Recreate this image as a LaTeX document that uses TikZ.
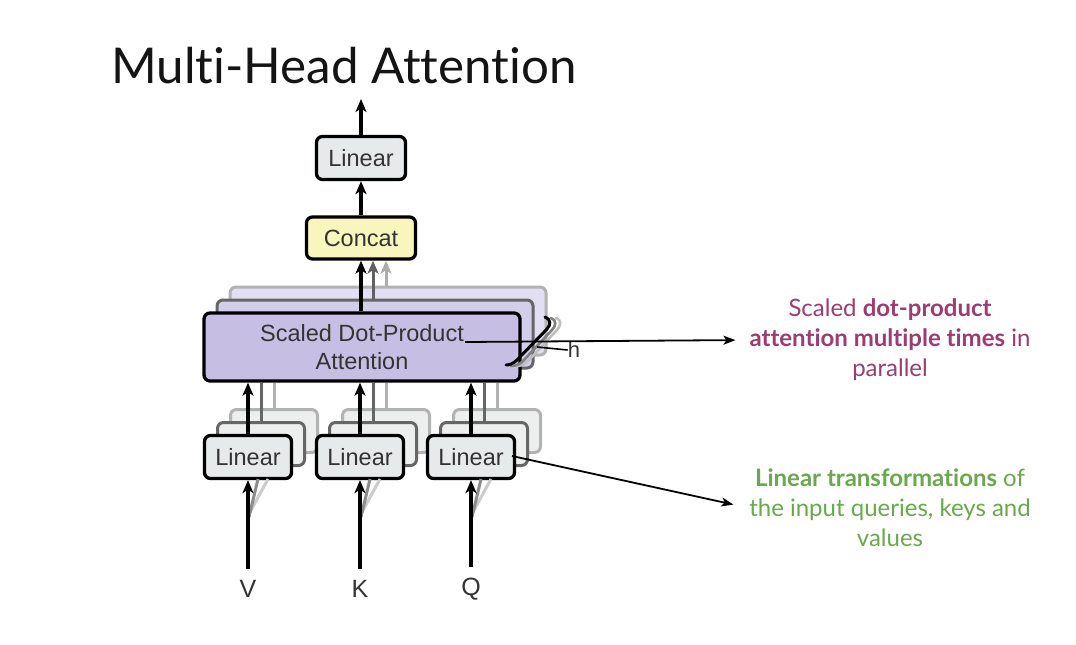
\documentclass[tikz,border=0pt]{standalone}
\usepackage{fontspec}
\setmainfont{Liberation Sans}
\newfontfamily\latofont[Ligatures={NoCommon,NoRequired,NoContextual}]{Lato}
\usetikzlibrary{arrows.meta}
\definecolor{boxgray}{HTML}{E6EAEA}
\definecolor{boxgrayB}{HTML}{EDEFEF}
\definecolor{concatyel}{HTML}{F8F5BD}
\definecolor{sdpa}{HTML}{C7BFE3}
\definecolor{sdpaB}{HTML}{D3CEEA}
\definecolor{sdpaC}{HTML}{E2DFF2}
\definecolor{annpurple}{HTML}{9B3D72}
\definecolor{anngreen}{HTML}{6AA84F}
\definecolor{txtgray}{HTML}{333333}
\tikzset{
  blk/.style={draw=black, line width=3.3pt, rounded corners=6pt, text=txtgray,
    font=\fontsize{23.5}{27}\selectfont, inner sep=0pt},
  layerA/.style={draw=black!60, line width=3pt, rounded corners=6pt, inner sep=0pt},
  layerB/.style={draw=black!30, line width=3pt, rounded corners=6pt, inner sep=0pt},
  flow/.style={line width=3.3pt, -{Stealth[length=13pt,width=11pt,inset=3.5pt]}},
  flowA/.style={line width=3pt, draw=black!62, -{Stealth[length=13pt,width=11pt,inset=3.5pt]}},
  flowB/.style={line width=3pt, draw=black!32, -{Stealth[length=13pt,width=11pt,inset=3.5pt]}},
  callout/.style={line width=1.8pt, -{Stealth[length=12pt,width=9pt,inset=3pt]}},
  ann/.style={font=\latofont\fontsize{24}{30}\selectfont, align=center, inner sep=0pt},
  inlbl/.style={font=\fontsize{25}{28}\selectfont, text=txtgray, inner sep=0pt}
}
\begin{document}
\begin{tikzpicture}[x=1pt,y=-1pt]
\useasboundingbox (0,0) rectangle (1076,645);
\fill[white] (0,0) rectangle (1076,645);

% title
\node[anchor=base west, inner sep=0pt, font=\latofont\fontsize{49.3}{52}\selectfont, text=black!92] (title) at (111,83) {Multi-Head Attention};

% top linear and concat
\node[blk, fill=boxgray, minimum width=89pt, minimum height=43pt] (lin) at (361,158) {Linear};
\node[blk, fill=concatyel, minimum width=109pt, minimum height=42pt] (concat) at (361,238) {Concat};
\coordinate (outtop) at (361,99);
\draw[flow] (lin.north) -- (outtop);
\draw[flow] (concat.north) -- (lin.south);

% SDPA layers
\node[layerB, fill=sdpaC, minimum width=316pt, minimum height=68pt] (sdpaC) at (388,321) {};
\node[layerA, fill=sdpaB, minimum width=316pt, minimum height=68pt] (sdpaB) at (375,334) {};
\draw[flowB] (sdpaC.north -| 386,0) -- (concat.south -| 386,0);
\draw[flowA] (sdpaB.north -| 373,0) -- (concat.south -| 373,0);
\node[blk, fill=sdpa, minimum width=316pt, minimum height=68pt, align=center,
  font=\fontsize{23.5}{28}\selectfont] (sdpa) at (362,347) {Scaled Dot-Product\\Attention};
\draw[flow] (sdpa.north -| concat.south) -- (concat.south);

% h bracket
\draw[black!25, line width=2.6pt, line cap=round] (556,318) .. controls (562,320) and (561,326) .. (557,330) -- (529,360) .. controls (525,364) and (521,366) .. (517,366);
\draw[black!50, line width=2.6pt, line cap=round] (551,318) .. controls (557,320) and (556,326) .. (552,330) -- (523,361) .. controls (519,365) and (515,366) .. (511,366);
\draw[black, line width=3pt, line cap=round] (545,317) .. controls (551,319) and (551,325) .. (547,329) -- (517,360) .. controls (513,364) and (509,365) .. (506,365);
\node[inlbl, font=\fontsize{22}{26}\selectfont] (hlbl) at (574,350) {h};
\coordinate (hline) at (537,347);
\draw[line width=1.6pt] (hline) -- (hlbl.west);

% lower linear boxes
\foreach \nm/\x/\lab in {v/248/V, k/360/K, q/471/Q} {
  \node[layerB, fill=boxgrayB, minimum width=87pt, minimum height=43pt] (\nm C) at (\x+26,431) {};
  \node[layerA, fill=boxgrayB, minimum width=87pt, minimum height=43pt] (\nm B) at (\x+13,444) {};
  \draw[black!30, line width=3pt] (\nm C.north) -- (\nm C.north |- sdpa.south);
  \draw[black!60, line width=3pt] (\nm B.north) -- (\nm B.north |- sdpa.south);
  \node[blk, fill=boxgray, minimum width=87pt, minimum height=43pt] (\nm) at (\x,457) {Linear};
  \draw[flow] (\nm.north) -- (\nm.north |- sdpa.south);
  \node[inlbl] (\nm in) at (\x,589) {\lab};
  \draw[black!20, line width=3pt] (\x+2,512) -- (\x+20,479);
  \draw[black!45, line width=3pt] (\x+1,517) -- (\x+10,479);
  \draw[flow, shorten <=11pt] (\nm in.north) -- (\nm.south);
}

% annotations
\node[ann, text=annpurple] (ann1) at (890,340) {Scaled \textbf{dot-product}\\\textbf{attention multiple times} in\\parallel};
\node[ann, text=anngreen] (ann2) at (890,508) {\textbf{Linear transformations} of\\the input queries, keys and\\values};
\coordinate (c1) at (465,342);
\coordinate (c2) at (512,456);
\draw[callout, shorten >=14pt] (c1) -- (ann1.west);
\draw[callout, shorten >=16pt] (c2) -- (ann2.west);
\end{tikzpicture}
\end{document}
